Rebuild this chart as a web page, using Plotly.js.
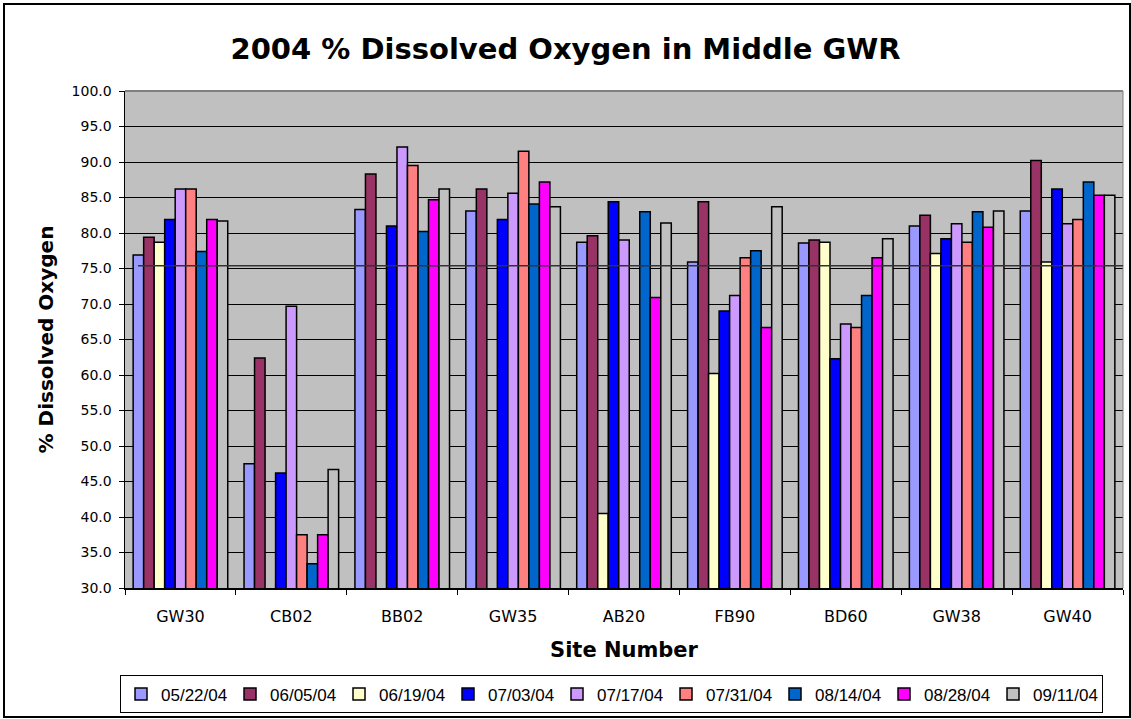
<!DOCTYPE html>
<html>
<head>
<meta charset="utf-8">
<script src="https://cdn.plot.ly/plotly-3.0.1.min.js"></script>
<style>
html,body{margin:0;padding:0;background:#fff;}
#wrap{position:relative;width:1131px;height:719px;}
#chart{position:absolute;left:0;top:0;width:1131px;height:719px;}
#frame{position:absolute;left:3px;top:3px;width:1124px;height:711px;border:2px solid #000;pointer-events:none;}
</style>
</head>
<body>
<div id="wrap"><div id="chart"></div><div id="frame"></div></div>
<script>
const sites = ["GW30","CB02","BB02","GW35","AB20","FB90","BD60","GW38","GW40"];
const dates = ["05/22/04","06/05/04","06/19/04","07/03/04","07/17/04","07/31/04","08/14/04","08/28/04","09/11/04"];
const colors = ["#9999FF","#993366","#FFFFCC","#0000FF","#CC99FF","#FF8080","#0066CC","#FF00FF","#C0C0C0"];

const d0522 = [76.9, 47.5, 83.3, 83.1, 78.7, 75.9, 78.6, 81.0, 83.1];
const d0605 = [79.4, 62.4, 88.3, 86.2, 79.6, 84.4, 79.0, 82.5, 90.2];
const d0619 = [78.7, null, null, null, 40.5, 60.2, 78.7, 77.1, 75.9];
const d0703 = [81.9, 46.2, 81.0, 81.9, 84.4, 69.0, 62.3, 79.2, 86.2];
const d0717 = [86.2, 69.7, 92.1, 85.6, 79.0, 71.2, 67.2, 81.3, 81.3];
const d0731 = [86.2, 37.5, 89.5, 91.5, null, 76.5, 66.7, 78.7, 81.9];
const d0814 = [77.4, 33.4, 80.2, 84.1, 83.0, 77.5, 71.2, 83.0, 87.2];
const d0828 = [81.9, 37.5, 84.7, 87.2, 70.9, 66.7, 76.5, 80.8, 85.3];
const d0911 = [81.7, 46.7, 86.2, 83.7, 81.4, 83.7, 79.2, 83.1, 85.3];
const series = [d0522,d0605,d0619,d0703,d0717,d0731,d0814,d0828,d0911];

const refLevel = 75.4;
const yTicks = [30,35,40,45,50,55,60,65,70,75,80,85,90,95,100];

const FONT = "DejaVu Sans, Verdana, sans-serif";

const traces = series.map((vals,i)=>({
  type:"bar",
  name:dates[i],
  x:sites,
  y:vals,
  marker:{color:colors[i], line:{color:"#000000", width:1.5}},
  hoverinfo:"x+y+name"
}));

const layout = {
  width:1131, height:719,
  margin:{l:125, r:8, t:91, b:131, autoexpand:false},
  paper_bgcolor:"#FFFFFF",
  plot_bgcolor:"#C0C0C0",
  font:{family:FONT, color:"#000", size:12},
  title:{text:"2004 % Dissolved Oxygen in Middle GWR", font:{family:FONT, size:29, color:"#000", weight:"bold"}, x:0.5, xanchor:"center", y:0.932, yanchor:"middle"},
  barmode:"group",
  bargap:0.147,
  bargroupgap:0,
  showlegend:true,
  legend:{orientation:"h", x:-0.005, xanchor:"left", y:-0.176, yanchor:"top",
          bordercolor:"#000", borderwidth:1, bgcolor:"#fff",
          font:{family:"Liberation Sans, Arial, sans-serif", size:17},
          entrywidth:64, entrywidthmode:"pixels", traceorder:"normal", itemwidth:30},
  xaxis:{
    type:"category",
    showline:true, linecolor:"#000", linewidth:1.5,
    ticks:"outside", ticklen:5, tickcolor:"#000", tickson:"boundaries",
    ticklabelstandoff:13,
    tickfont:{family:FONT, size:16},
    showgrid:false,
    title:{text:"Site Number", font:{family:FONT, size:21, weight:"bold"}, standoff:17}
  },
  yaxis:{
    range:[30,100],
    tickvals:yTicks, tickformat:".1f",
    showline:true, linecolor:"#000", linewidth:1.5, mirror:false,
    ticks:"outside", ticklen:5, tickcolor:"#000",
    ticklabelstandoff:4,
    showgrid:true, gridcolor:"#000", gridwidth:1,
    zeroline:false,
    tickfont:{family:FONT, size:14},
    title:{text:"% Dissolved Oxygen", font:{family:FONT, size:20, weight:"bold"}, standoff:12}
  },
  shapes:[
    {type:"line", xref:"paper", yref:"paper", x0:0, x1:1, y0:1, y1:1, line:{color:"#808080", width:2}},
    {type:"line", xref:"paper", yref:"paper", x0:1, x1:1, y0:0, y1:1, line:{color:"#808080", width:1}},
    {type:"line", xref:"paper", yref:"y", x0:0.013, x1:1, y0:refLevel, y1:refLevel, layer:"above", line:{color:"#333333", width:1.5}}
  ]
};

Plotly.newPlot("chart", traces, layout, {displayModeBar:false, staticPlot:true});
</script>
</body>
</html>
